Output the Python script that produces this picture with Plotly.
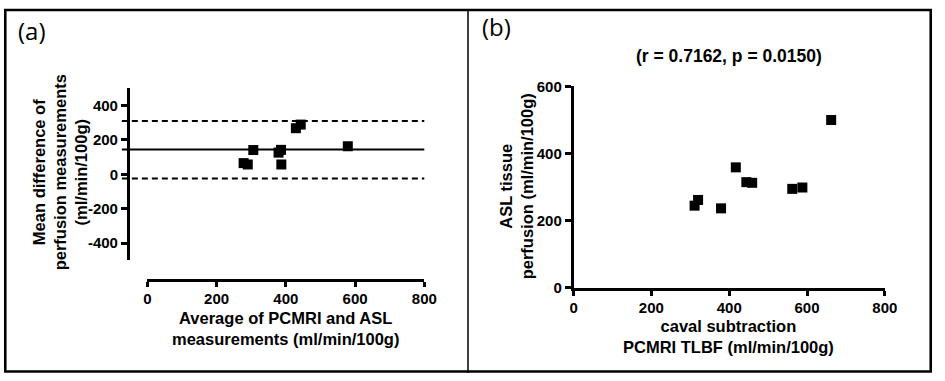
import plotly.graph_objects as go

W, H = 945, 381

# ---------------- data ----------------
# Panel (a): Bland-Altman
avg_a = [278, 290, 306, 379, 386, 387, 429, 443, 579]
diff_a = [65, 57, 141, 126, 142, 57, 268, 289, 163]
mean_diff = 144
upper_loa = 310
lower_loa = -25

# Panel (b): correlation
pcmri_b = [311, 320, 379, 417, 444, 459, 562, 588, 662]
asl_b = [245, 262, 237, 359, 315, 313, 295, 299, 500]

x_ticks = [0, 200, 400, 600, 800]
ya_ticks = [-400, -200, 0, 200, 400]
ya_ticklabels = ["-400", "-200", "0", "200", "400"]
yb_ticks = [0, 200, 400, 600]

stats_title = "(r = 0.7162, p = 0.0150)"


def fx(px):
    return px / W


def fy(py):
    return 1 - py / H


BOLD = dict(family="Liberation Sans", color="black", weight="bold")
tickfont = dict(BOLD, size=15)
titlefont = dict(BOLD, size=16.5)

fig = go.Figure()

marker = dict(symbol="square", size=10, color="black", line=dict(width=0))

fig.add_trace(go.Scatter(x=avg_a, y=diff_a, mode="markers", marker=marker,
                         xaxis="x", yaxis="y", showlegend=False, cliponaxis=False))
fig.add_trace(go.Scatter(x=pcmri_b, y=asl_b, mode="markers", marker=marker,
                         xaxis="x2", yaxis="y2", showlegend=False, cliponaxis=False))

axis_common = dict(showline=True, linecolor="black", linewidth=2.5, ticks="outside",
                   tickcolor="black", tickwidth=2.5, showgrid=False, zeroline=False,
                   tickfont=tickfont, fixedrange=True)

fig.update_layout(
    width=W, height=H,
    margin=dict(l=0, r=0, t=0, b=0),
    paper_bgcolor="white", plot_bgcolor="white",
    xaxis=dict(axis_common, domain=[fx(146), fx(428)], range=[0, 800],
               tickvals=x_ticks, anchor="free", position=fy(284), ticklen=5,
               ticklabelstandoff=-1),
    yaxis=dict(axis_common, domain=[fy(263), fy(83)], range=[-500, 500],
               tickvals=ya_ticks, ticktext=ya_ticklabels, anchor="free",
               position=fx(126), ticklen=6),
    xaxis2=dict(axis_common, domain=[fx(580), fx(897)], range=[0, 800],
                tickvals=x_ticks, anchor="y2", ticklen=5, ticklabelstandoff=-1),
    yaxis2=dict(axis_common, domain=[fy(292), fy(81)], range=[0, 600],
                tickvals=yb_ticks, anchor="x2", ticklen=6),
)

# Bland-Altman reference lines
for val, dash in [(mean_diff, "solid"), (upper_loa, "6px,4px"), (lower_loa, "6px,4px")]:
    fig.add_shape(type="line", xref="paper", yref="y", x0=fx(120), x1=fx(428),
                  y0=val, y1=val, line=dict(color="black", width=2, dash=dash))

# Panel borders
fig.add_shape(type="rect", xref="paper", yref="paper", x0=fx(1.3), x1=fx(943.7),
              y0=fy(379.5), y1=fy(1), line=dict(color="black", width=2.6))
fig.add_shape(type="line", xref="paper", yref="paper", x0=fx(472.5), x1=fx(472.5),
              y0=0, y1=1, line=dict(color="black", width=1.5))

ann = []
panel_font = dict(family="Open Sans", size=24, color="black")
ann.append(dict(text="(a)", x=fx(12), y=fy(22), xanchor="left", yanchor="middle",
                showarrow=False, font=panel_font, xref="paper", yref="paper"))
ann.append(dict(text="(b)", x=fx(485), y=fy(18), xanchor="left", yanchor="middle",
                showarrow=False, font=panel_font, xref="paper", yref="paper"))
ann.append(dict(text=stats_title, x=fx(738), y=fy(49), xanchor="center", yanchor="middle",
                showarrow=False, font=dict(BOLD, size=17.5), xref="paper", yref="paper"))
ann.append(dict(text="Average of PCMRI and ASL<br>measurements (ml/min/100g)",
                x=fx(287), y=fy(334), xanchor="center", yanchor="middle",
                showarrow=False, font=titlefont, xref="paper", yref="paper"))
ann.append(dict(text="Mean difference of<br>perfusion measurements<br>(ml/min/100g)",
                x=fx(57), y=fy(171), xanchor="center", yanchor="middle", textangle=-90,
                showarrow=False, font=titlefont, xref="paper", yref="paper"))
ann.append(dict(text="caval subtraction<br>PCMRI TLBF (ml/min/100g)",
                x=fx(738), y=fy(343), xanchor="center", yanchor="middle",
                showarrow=False, font=titlefont, xref="paper", yref="paper"))
ann.append(dict(text="ASL tissue<br>perfusion (ml/min/100g)",
                x=fx(522), y=fy(186), xanchor="center", yanchor="middle", textangle=-90,
                showarrow=False, font=titlefont, xref="paper", yref="paper"))
for a in ann:
    a.setdefault("align", "center")
fig.update_layout(annotations=ann)

fig.write_html(
    "out.html",
    config={"displayModeBar": False},
    post_script="document.body.style.margin='0';document.body.style.overflow='hidden';",
)
